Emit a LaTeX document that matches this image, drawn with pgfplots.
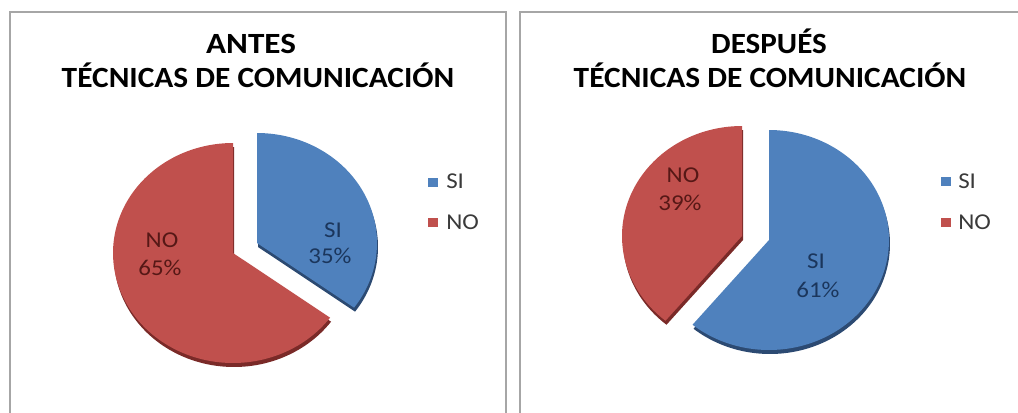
\documentclass[border=0pt]{standalone}
\usepackage{pgfplots}
\pgfplotsset{compat=1.18}
\usepackage{pgfplotstable}
\usepackage{fontspec}
\setmainfont{Carlito}
\definecolor{siblue}{HTML}{4F81BD}
\definecolor{nored}{HTML}{C0504D}
\definecolor{siside}{HTML}{2C4A72}
\definecolor{noside}{HTML}{7A2A28}
\definecolor{sitext}{HTML}{1B365C}
\definecolor{notext}{HTML}{561816}
\definecolor{frame}{HTML}{A6A6A6}
\definecolor{legtext}{HTML}{3A3A3A}
\pgfplotstableread{
cat value
SI 35
NO 65
}\antes
\pgfplotstableread{
cat value
SI 61
NO 39
}\despues
\begin{document}%
\begin{tikzpicture}
\pgfplotstablegetelem{0}{value}\of\antes \edef\aSI{\pgfplotsretval}
\pgfplotstablegetelem{1}{value}\of\antes \edef\aNO{\pgfplotsretval}
\pgfplotstablegetelem{0}{value}\of\despues \edef\dSI{\pgfplotsretval}
\pgfplotstablegetelem{1}{value}\of\despues \edef\dNO{\pgfplotsretval}
% angles (clockwise from 12 o'clock)
\pgfmathsetmacro\aSIs{90-3.6*\aSI}
\pgfmathsetmacro\aNOs{\aSIs-3.6*\aNO}
\pgfmathsetmacro\dNOe{90+3.6*\dNO}
\pgfmathsetmacro\dSIs{\dNOe-360}
\begin{axis}[
  scale only axis, width=763.5pt, height=309pt,
  xmin=0, xmax=1018, ymin=0, ymax=412, y dir=reverse,
  hide axis, clip=true,
]
% picture extent
\path (axis cs:0,0) rectangle (axis cs:1018,412);
% panel frames
\draw[overlay, frame, line width=1.5pt] (axis cs:10,430) -- (axis cs:10,11.5) -- (axis cs:506,11.5) -- (axis cs:506,430);
\draw[overlay, frame, line width=1.5pt] (axis cs:520,430) -- (axis cs:520,11.5) -- (axis cs:1030,11.5);
% ---------- ANTES ----------
% sides (3D depth)
\addplot[fill=noside, draw=none, domain=\aNOs:\aSIs, samples=120, variable=\t]
  ({234+120*cos(\t)},{257-110*sin(\t)}) -- (axis cs:234,257) -- cycle;
\addplot[fill=siside, draw=none, domain=\aSIs:90, samples=90, variable=\t]
  ({258+120*cos(\t)},{247-110*sin(\t)}) -- (axis cs:258,247) -- cycle;
% tops
\addplot[fill=nored, draw=none, domain=\aNOs:\aSIs, samples=120, variable=\t]
  ({233+120*cos(\t)},{253-110*sin(\t)}) -- (axis cs:233,253) -- cycle;
\addplot[fill=siblue, draw=none, domain=\aSIs:90, samples=90, variable=\t]
  ({257+120*cos(\t)},{243-110*sin(\t)}) -- (axis cs:257,243) -- cycle;
% ---------- DESPUES ----------
\addplot[fill=noside, draw=none, domain=90:\dNOe, samples=90, variable=\t]
  ({743+120*cos(\t)},{240-110*sin(\t)}) -- (axis cs:743,240) -- cycle;
\addplot[fill=siside, draw=none, domain=\dSIs:90, samples=120, variable=\t]
  ({770+120*cos(\t)},{244-110*sin(\t)}) -- (axis cs:770,244) -- cycle;
\addplot[fill=nored, draw=none, domain=90:\dNOe, samples=90, variable=\t]
  ({742+120*cos(\t)},{236-110*sin(\t)}) -- (axis cs:742,236) -- cycle;
\addplot[fill=siblue, draw=none, domain=\dSIs:90, samples=120, variable=\t]
  ({769+120*cos(\t)},{240-110*sin(\t)}) -- (axis cs:769,240) -- cycle;
% titles
\node[anchor=base, xscale=1.13, font=\fontsize{22}{26}\selectfont\bfseries] at (axis cs:251,53) {ANTES};
\node[anchor=base, xscale=1.07, font=\fontsize{22}{26}\selectfont\bfseries] at (axis cs:258,87) {TÉCNICAS DE COMUNICACIÓN};
\node[anchor=base, xscale=1.06, font=\fontsize{22}{26}\selectfont\bfseries] at (axis cs:769,53) {DESPUÉS};
\node[anchor=base, xscale=1.07, font=\fontsize{22}{26}\selectfont\bfseries] at (axis cs:770,87) {TÉCNICAS DE COMUNICACIÓN};
% slice labels
\tikzset{lab/.style={anchor=base, xscale=1.1, font=\fontsize{17}{20}\selectfont}}
\node[lab, text=sitext] at (axis cs:333,237) {SI};
\node[lab, text=sitext] at (axis cs:330,263) {\aSI\%};
\node[lab, text=notext] at (axis cs:162,247) {NO};
\node[lab, text=notext] at (axis cs:160,275) {\aNO\%};
\node[lab, text=notext] at (axis cs:683,182) {NO};
\node[lab, text=notext] at (axis cs:680,210) {\dNO\%};
\node[lab, text=sitext] at (axis cs:816,268) {SI};
\node[lab, text=sitext] at (axis cs:818,297) {\dSI\%};
% legends
\tikzset{leg/.style={anchor=base west, inner sep=0pt, xscale=1.1, text=legtext, font=\fontsize{17}{20}\selectfont}}
\fill[siblue] (axis cs:428,178) rectangle (axis cs:438,187);
\fill[nored] (axis cs:428,218) rectangle (axis cs:438,227);
\node[leg] at (axis cs:446,188) {SI};
\node[leg] at (axis cs:446,229) {NO};
\fill[siblue] (axis cs:941,177) rectangle (axis cs:951,186);
\fill[nored] (axis cs:941,218) rectangle (axis cs:951,227);
\node[leg] at (axis cs:958,188) {SI};
\node[leg] at (axis cs:958,229) {NO};
\end{axis}
\end{tikzpicture}%
\end{document}
